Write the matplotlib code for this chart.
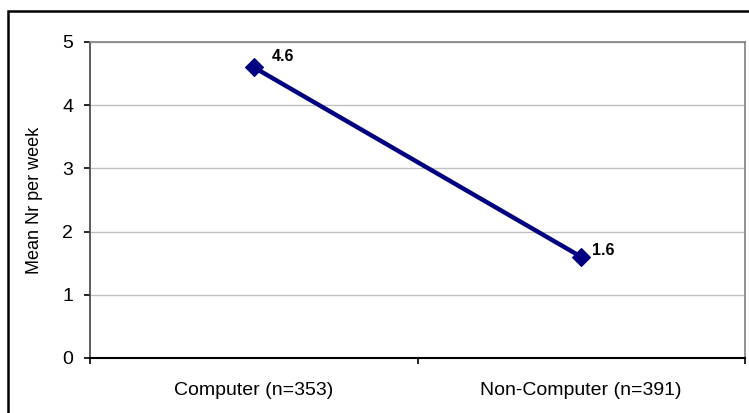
import matplotlib.pyplot as plt
import numpy as np
from matplotlib.patches import Rectangle

plt.rcParams['font.family'] = ['Liberation Sans', 'DejaVu Sans']

groups = ['Computer (n=353)', 'Non-Computer (n=391)']
mean_per_week = [4.6, 1.6]
value_labels = ['4.6', '1.6']

W, H = 749, 413
fig = plt.figure(figsize=(W / 100, H / 100), dpi=100)

# plot area in pixels: x 90..745, y 42..358
ax = fig.add_axes([90 / W, 1 - 358 / H, (745 - 90) / W, (358 - 42) / H])

x = np.arange(len(groups))
ax.plot(x, mean_per_week, color='#000080', lw=3.2, marker='D',
        markersize=9, markeredgewidth=0.8, zorder=3, clip_on=False)

# label offsets in pixels (right, up)
offsets = [(18, 11), (11, 6)]
for xi, yi, lab, (dx, dy) in zip(x, mean_per_week, value_labels, offsets):
    ax.annotate(lab, (xi, yi), xytext=(dx * 0.72, dy * 0.72), textcoords='offset points',
                ha='left', va='center', fontsize=11.5, fontweight='bold')

ax.set_xlim(-0.5, len(groups) - 0.5)
ax.set_ylim(0, 5)
ax.set_yticks(np.arange(0, 6, 1))
ax.set_xticks(x)
ax.set_xticklabels(groups)
ax.set_xticks(np.arange(-0.5, len(groups), 1), minor=True)
ax.tick_params(axis='x', which='major', length=0, pad=17, labelsize=14)
ax.tick_params(axis='x', which='minor', length=4, width=1.2, direction='out', color='black')
ax.tick_params(axis='y', length=4, width=1.2, direction='out', pad=8, labelsize=14,
               color='black')

ax.grid(axis='y', color='#c0c0c0', lw=1)
ax.set_axisbelow(True)
for s in ['top', 'right']:
    ax.spines[s].set_color('#808080')
    ax.spines[s].set_linewidth(1.2)
ax.spines['left'].set_color('#404040')
ax.spines['left'].set_linewidth(1.2)
ax.spines['bottom'].set_color('black')
ax.spines['bottom'].set_linewidth(1.5)

ax.set_ylabel('Mean Nr per week', fontsize=13)
ax.yaxis.set_label_coords((43 - 90) / (745 - 90), 0.5)

# chart border (cut at right and bottom)
fig.patches.append(Rectangle((8 / W, -0.1), 1.2, 1 - 11 / H + 0.1,
                             transform=fig.transFigure, fill=False,
                             edgecolor='black', lw=1.8))

fig.savefig('out.png', dpi=100)
